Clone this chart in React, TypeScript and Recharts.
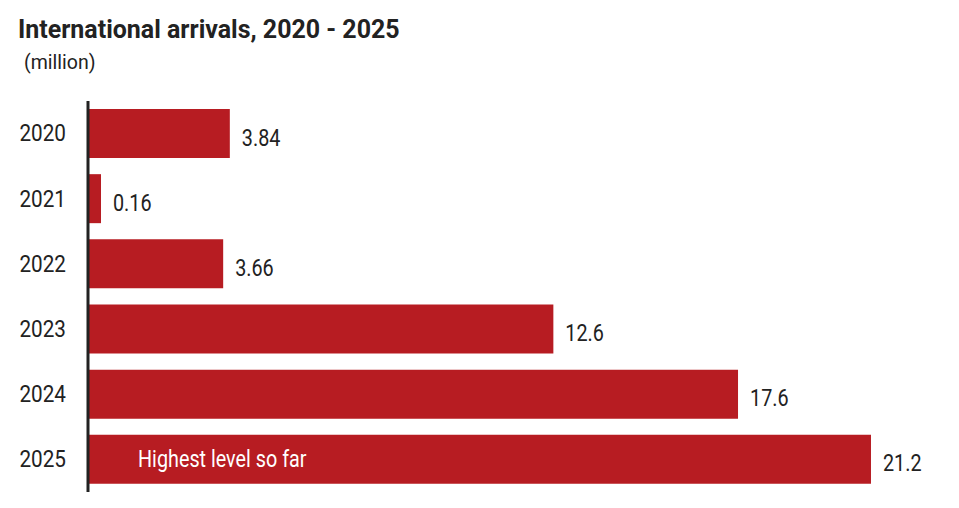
import { Bar, BarChart, LabelList, XAxis, YAxis } from 'recharts';

const years = ['2020', '2021', '2022', '2023', '2024', '2025'];
const arrivals = [3.84, 0.16, 3.66, 12.6, 17.6, 21.2];
const notes = ['', '', '', '', '', 'Highest level so far'];

const FONT = 'Roboto, "DejaVu Sans", sans-serif';
const SX = 0.86; // squeeze glyphs to mimic the condensed face
const RED = '#b71c22';
const INK = '#222';

const data = years.map((year, i) => ({ year, value: arrivals[i], note: notes[i] }));

const YearTick = (props: any) => {
  const { x, y, payload } = props;
  return (
    <text
      transform={`translate(${x},${y}) scale(0.9,1)`}
      textAnchor="end"
      dominantBaseline="central"
      fill={INK}
      fontSize={23}
      fontFamily={FONT}
    >
      {payload.value}
    </text>
  );
};

// value label just right of the bar end, a touch below centre
const ValueLabel = (props: any) => {
  const { x, y, width, height, value } = props;
  return (
    <text
      transform={`translate(${x + width + 12},${y + height / 2 + 4}) scale(${SX},1)`}
      fill={INK}
      fontSize={23}
      fontFamily={FONT}
      dominantBaseline="central"
    >
      {value}
    </text>
  );
};

const NoteLabel = (props: any) => {
  const { x, y, height, value } = props;
  if (!value) return null;
  return (
    <text
      transform={`translate(${x + 50},${y + height / 2}) scale(${SX},1)`}
      fill="#fff"
      fontSize={23}
      fontFamily={FONT}
      dominantBaseline="central"
    >
      {value}
    </text>
  );
};

export default function App() {
  return (
    <div
      style={{
        position: 'absolute',
        left: 0,
        top: 0,
        width: 959,
        height: 508,
        background: '#fff',
        fontFamily: FONT,
        color: INK,
      }}
    >
      <div
        style={{
          position: 'absolute',
          left: 18,
          top: 16,
          fontSize: 26,
          fontWeight: 700,
          lineHeight: 1,
          whiteSpace: 'nowrap',
          transform: 'scaleX(0.96)',
          transformOrigin: 'left top',
        }}
      >
        International arrivals, 2020 - 2025
      </div>
      <div
        style={{
          position: 'absolute',
          left: 24,
          top: 52,
          fontSize: 21,
          lineHeight: 1,
          whiteSpace: 'nowrap',
          transform: 'scaleX(0.93)',
          transformOrigin: 'left top',
        }}
      >
        (million)
      </div>
      <BarChart
        width={959}
        height={508}
        data={data}
        layout="vertical"
        margin={{ top: 101, right: 40, left: 0, bottom: 16 }}
        barSize={49}
      >
        <XAxis type="number" domain={[0, 22.5]} hide />
        <YAxis
          type="category"
          dataKey="year"
          width={88}
          axisLine={{ stroke: INK, strokeWidth: 3 }}
          tickLine={false}
          tickMargin={16}
          tick={YearTick}
        />
        <Bar dataKey="value" fill={RED} minPointSize={13} isAnimationActive={false}>
          <LabelList dataKey="value" content={ValueLabel} />
          <LabelList dataKey="note" content={NoteLabel} />
        </Bar>
      </BarChart>
    </div>
  );
}
